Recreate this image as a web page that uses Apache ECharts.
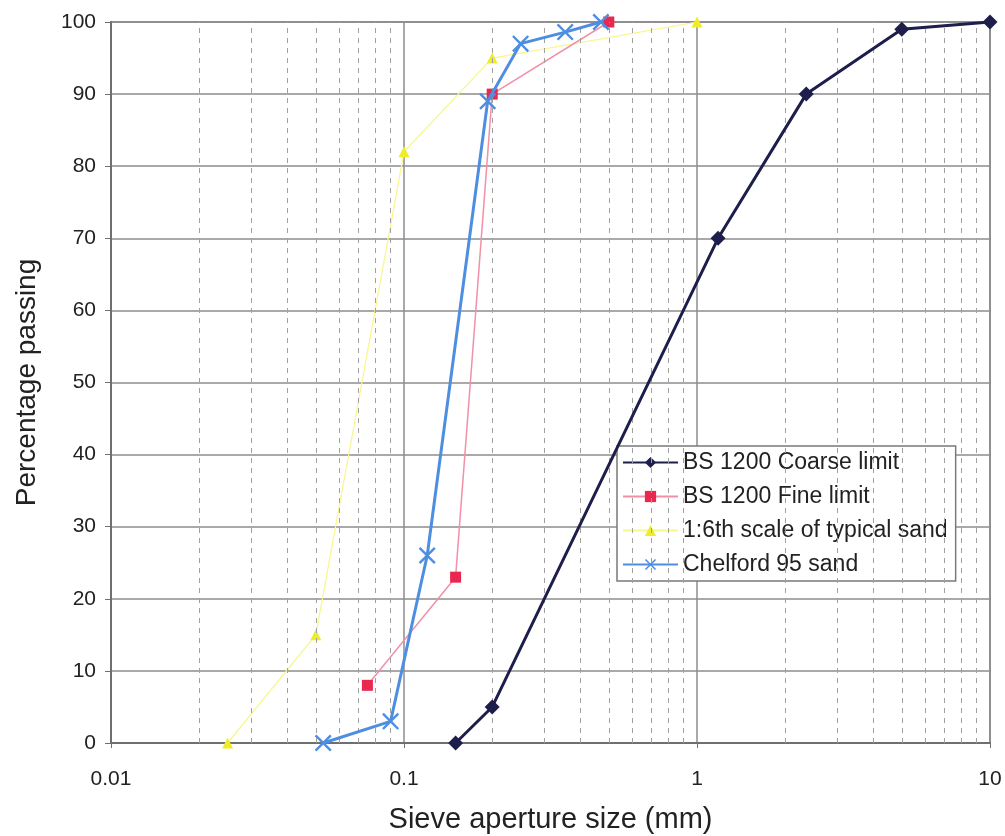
<!DOCTYPE html>
<html>
<head>
<meta charset="utf-8">
<script src="https://cdn.jsdelivr.net/npm/echarts@6/dist/echarts.min.js"></script>
<style>
  html, body { margin: 0; padding: 0; background: #ffffff; }
  #chart { width: 1005px; height: 836px; }
</style>
</head>
<body>
<div id="chart"></div>
<script>
// sieve sizes (mm) and percentage passing
var coarseX = [0.15, 0.2, 1.18, 2.36, 5, 10];
var coarseY = [0, 5, 70, 90, 99, 100];
var fineX = [0.075, 0.15, 0.2, 0.5];
var fineY = [8, 23, 90, 100];
var typicalX = [0.025, 0.05, 0.1, 0.2, 1];
var typicalY = [0, 15, 82, 95, 100];
var chelfordX = [0.053, 0.09, 0.12, 0.193, 0.25, 0.355, 0.47];
var chelfordY = [0, 3, 26, 89, 97, 98.6, 100];
var minorTicks = [0.02, 0.03, 0.04, 0.05, 0.06, 0.07, 0.08, 0.09,
                  0.2, 0.3, 0.4, 0.5, 0.6, 0.7, 0.8, 0.9,
                  2, 3, 4, 5, 6, 7, 8, 9];

function pairs(xs, ys) {
    var out = [];
    for (var i = 0; i < xs.length; i++) {
        out.push([xs[i], ys[i]]);
    }
    return out;
}

var minorLines = [];
for (var i = 0; i < minorTicks.length; i++) {
    minorLines.push({ xAxis: minorTicks[i] });
}

var crossPath = 'path://M0,1 L1,0 L5,4 L9,0 L10,1 L6,5 L10,9 L9,10 L5,6 L1,10 L0,9 L4,5 Z';

var myChart = echarts.init(document.getElementById('chart'));
var option = {
    backgroundColor: '#ffffff',
    animation: false,
    grid: {
        left: 111,
        right: 15,
        top: 22,
        bottom: 93,
        outerBoundsMode: 'none',
        show: true,
        backgroundColor: 'transparent',
        borderColor: '#777777',
        borderWidth: 1.5
    },
    legend: {
        orient: 'vertical',
        left: 617,
        top: 446,
        padding: [5, 8, 5, 5],
        itemGap: 11,
        itemWidth: 55,
        itemHeight: 14,
        backgroundColor: '#ffffff',
        borderColor: '#7a7a7a',
        borderWidth: 1.5,
        textStyle: {
            fontFamily: 'Liberation Sans',
            fontSize: 23,
            color: '#222222'
        },
        data: ['BS 1200 Coarse limit', 'BS 1200 Fine limit', '1:6th scale of typical sand', 'Chelford 95 sand']
    },
    xAxis: {
        type: 'log',
        logBase: 10,
        min: 0.01,
        max: 10,
        name: 'Sieve aperture size (mm)',
        nameLocation: 'middle',
        nameGap: 62,
        nameTextStyle: {
            fontFamily: 'Liberation Sans',
            fontSize: 29,
            color: '#222222'
        },
        axisLine: { lineStyle: { color: '#6f6f6f', width: 2 } },
        axisTick: { show: true, length: 5, lineStyle: { color: '#6f6f6f' } },
        axisLabel: {
            fontFamily: 'Liberation Sans',
            fontSize: 21,
            color: '#222222',
            margin: 26,
            formatter: function (v) { return String(v); }
        },
        splitLine: { show: true, lineStyle: { color: '#8c8c8c', width: 1.5 } }
    },
    yAxis: {
        type: 'value',
        min: 0,
        max: 100,
        interval: 10,
        name: 'Percentage passing',
        nameLocation: 'middle',
        nameGap: 70,
        nameTextStyle: {
            fontFamily: 'Liberation Sans',
            fontSize: 28,
            color: '#222222'
        },
        axisLine: { show: true, lineStyle: { color: '#6f6f6f', width: 2 } },
        axisTick: { show: true, length: 6, lineStyle: { color: '#6f6f6f' } },
        axisLabel: {
            fontFamily: 'Liberation Sans',
            fontSize: 21,
            color: '#222222',
            margin: 15
        },
        splitLine: { show: true, lineStyle: { color: '#8c8c8c', width: 1.5 } }
    },
    series: [
        {
            name: 'grid minor',
            type: 'line',
            data: [],
            silent: true,
            markLine: {
                silent: true,
                symbol: 'none',
                label: { show: false },
                lineStyle: { color: '#a0a0a0', type: [5, 5], width: 1 },
                data: minorLines
            }
        },
        {
            name: '1:6th scale of typical sand',
            type: 'line',
            data: pairs(typicalX, typicalY),
            symbol: 'triangle',
            symbolSize: 11,
            lineStyle: { color: '#f7f78a', width: 1.2 },
            itemStyle: { color: '#eded2a' },
            z: 3
        },
        {
            name: 'BS 1200 Fine limit',
            type: 'line',
            data: pairs(fineX, fineY),
            symbol: 'rect',
            symbolSize: 11,
            lineStyle: { color: '#f290a8', width: 1.5 },
            itemStyle: { color: '#e8284e' },
            z: 4
        },
        {
            name: 'Chelford 95 sand',
            type: 'line',
            data: pairs(chelfordX, chelfordY),
            symbol: crossPath,
            symbolSize: 17,
            lineStyle: { color: '#4e8ee0', width: 3 },
            itemStyle: { color: '#4e8ee0' },
            z: 5
        },
        {
            name: 'BS 1200 Coarse limit',
            type: 'line',
            data: pairs(coarseX, coarseY),
            symbol: 'diamond',
            symbolSize: 15,
            lineStyle: { color: '#1e1e4c', width: 3 },
            itemStyle: { color: '#1e1e4c' },
            z: 6
        }
    ]
};
myChart.setOption(option);
window.addEventListener('resize', function () { myChart.resize(); })
</script>
</body>
</html>
